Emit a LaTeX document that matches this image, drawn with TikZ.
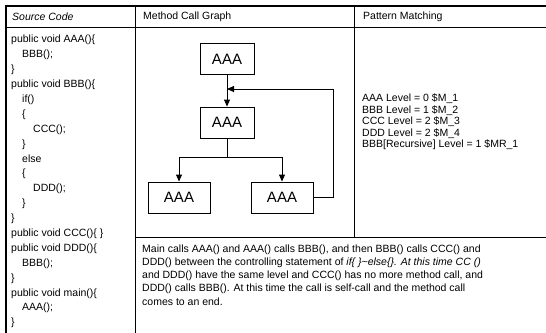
\documentclass[tikz,border=0pt]{standalone}
\usepackage{fontspec}
\setmainfont{Liberation Sans}
\usetikzlibrary{arrows.meta}
\begin{document}
\begin{tikzpicture}[x=1pt,y=-1pt,
  font=\fontsize{10.5}{12}\selectfont,
  txt/.style={anchor=west, inner sep=0pt},
  gbox/.style={draw, line width=0.9pt, minimum height=31pt, font=\fontsize{15}{17}\selectfont, inner sep=0pt},
  arr/.style={line width=0.9pt, -{Triangle[length=7pt,width=6pt]}},
  rule/.style={line width=0.9pt},
  outer/.style={line width=1.6pt}]
\useasboundingbox (0,0) rectangle (546,332);
% table frame
\draw[outer] (6,334) -- (6,6) -- (548,6);
\draw[rule] (6,27) -- (548,27);
\draw[rule] (135,6) -- (135,334);
\draw[rule] (354,6) -- (354,237);
\draw[rule] (135,237) -- (548,237);
% headers
\node[txt] (h1) at (12,17) {\itshape Source Code};
\node[txt] (h2) at (143,17) {Method Call Graph};
\node[txt] (h3) at (363,17) {Pattern Matching};
% source code
\node[txt] (s1) at (11,40) {public void AAA()\{};
\node[txt] (s2) at (22,54.9) {BBB();};
\node[txt] (s3) at (11,69.8) {\}};
\node[txt] (s4) at (11,84.7) {public void BBB()\{};
\node[txt] (s5) at (22,99.6) {if()};
\node[txt] (s6) at (22,114.5) {\{};
\node[txt] (s7) at (33,129.4) {CCC();};
\node[txt] (s8) at (22,144.3) {\}};
\node[txt] (s9) at (22,159.2) {else};
\node[txt] (s10) at (22,174.1) {\{};
\node[txt] (s11) at (33,189) {DDD();};
\node[txt] (s12) at (22,203.9) {\}};
\node[txt] (s13) at (11,218.8) {\}};
\node[txt] (s14) at (11,233.7) {public void CCC()\{ \}};
\node[txt] (s15) at (11,248.6) {public void DDD()\{};
\node[txt] (s16) at (22,263.5) {BBB();};
\node[txt] (s17) at (11,278.4) {\}};
\node[txt] (s18) at (11,293.3) {public void main()\{};
\node[txt] (s19) at (22,308.2) {AAA();};
\node[txt] (s20) at (11,323.1) {\}};
% graph
\node[gbox, minimum width=54pt] (a) at (227,59) {AAA};
\node[gbox, minimum width=54pt] (b) at (227,122.5) {AAA};
\node[gbox, minimum width=62pt] (c) at (179,197.5) {AAA};
\node[gbox, minimum width=62pt] (d) at (282,197.5) {AAA};
\coordinate (sp) at (227,157);
\coordinate (fb) at (227,89);
\coordinate (fr) at (333,89);
\draw[arr] (a) -- (b);
\draw[rule] (b.south) -- (sp);
\draw[arr] (sp) -| (c);
\draw[arr] (sp) -| (d);
\draw[arr] (d.east) -| (fr) -- (fb);
% pattern matching
\node[txt] (p1) at (362,99) {AAA Level = 0 \$M\_1};
\node[txt] (p2) at (362,110.5) {BBB Level = 1 \$M\_2};
\node[txt] (p3) at (362,122) {CCC Level = 2 \$M\_3};
\node[txt] (p4) at (362,133.5) {DDD Level = 2 \$M\_4};
\node[txt] (p5) at (362,145) {BBB[Recursive] Level = 1 \$MR\_1};
% description
\node[txt] (d1) at (142,250) {Main calls AAA() and AAA() calls BBB(), and then BBB() calls CCC() and};
\node[txt] (d2) at (142,263) {DDD() between the controlling statement of \textit{if\{ \}\textasciitilde else\{\}. At this time CC ()}};
\node[txt] (d3) at (142,276) {and DDD() have the same level and CCC() has no more method call, and};
\node[txt] (d4) at (142,289) {DDD() calls BBB(). At this time the call is self-call and the method call};
\node[txt] (d5) at (142,302) {comes to an end.};
\end{tikzpicture}
\end{document}
